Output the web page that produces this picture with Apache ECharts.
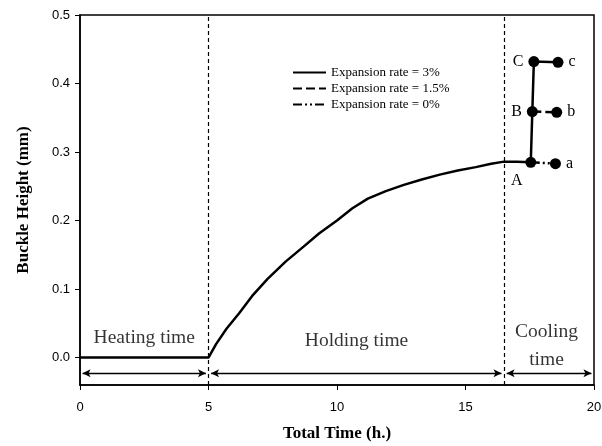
<!DOCTYPE html>
<html><head><meta charset="utf-8">
<script src="https://cdn.jsdelivr.net/npm/echarts@6/dist/echarts.min.js"></script>
<style>html,body{margin:0;padding:0;background:#fff}#c{width:602px;height:446px}</style>
</head><body><div id="c"></div>
<script>
// main curve (expansion holding phase)
const curveTime = [0, 5, 5.3, 5.7, 6.2, 6.7, 7.3, 8, 8.7, 9.3, 10, 10.6, 11.2, 11.9, 12.6, 13.3, 14, 14.7, 15.4, 16, 16.5, 17, 17.54];
const curveHeight = [0, 0, 0.02, 0.042, 0.065, 0.09, 0.115, 0.14, 0.162, 0.181, 0.2, 0.218, 0.232, 0.243, 0.252, 0.26, 0.267, 0.273, 0.278, 0.283, 0.286, 0.286, 0.285];
// cooling points
const pointNames = ['A', 'B', 'C', 'a', 'b', 'c'];
const pointTime = [17.54, 17.6, 17.66, 18.5, 18.55, 18.6];
const pointHeight = [0.285, 0.359, 0.432, 0.283, 0.358, 0.431];
const seriesNames = ['Expansion rate = 3%', 'Expansion rate = 1.5%', 'Expansion rate = 0%'];
// phases
const phaseBounds = [0, 5, 16.5, 20];
const phaseNames = ['Heating time', 'Holding time', 'Cooling\ntime'];
const phaseLabelX = [2.5, 10.76, 18.15];
const phaseLabelY = [0.029, 0.025, 0.0175];
const arrowY = -0.023;
const yTicks = [0, 0.1, 0.2, 0.3, 0.4, 0.5];

const P = i => [pointTime[i], pointHeight[i]];
const curve = curveTime.map((t, i) => [t, curveHeight[i]]);
const serif = 'Liberation Serif';
const sans = 'Liberation Sans';

const labelPos = {A: {position: 'bottom', offset: [-14, 0]}, B: {position: 'left'}, C: {position: 'left'},
  a: {position: 'right'}, b: {position: 'right'}, c: {position: 'right'}};

const chart = echarts.init(document.getElementById('c'));
chart.setOption({
  animation: false,
  backgroundColor: '#fff',
  grid: {left: 80, right: 8, top: 15, bottom: 61, show: true, borderColor: '#000', borderWidth: 1.5,
    containLabel: false, outerBoundsMode: 'none'},
  legend: {
    data: seriesNames, orient: 'vertical', left: 287, top: 61, itemGap: 3,
    itemWidth: 33, itemHeight: 12,
    itemStyle: {color: 'rgba(0,0,0,0)', borderWidth: 0, opacity: 0},
    textStyle: {fontFamily: serif, fontSize: 13, color: '#000'}
  },
  xAxis: {
    type: 'value', min: 0, max: 20, interval: 5,
    name: 'Total Time (h.)', nameLocation: 'middle', nameGap: 40,
    nameTextStyle: {fontFamily: serif, fontWeight: 'bold', fontSize: 17, color: '#000'},
    axisLine: {show: true, onZero: false, lineStyle: {color: '#000', width: 1.5}},
    axisTick: {show: true, length: 5, lineStyle: {color: '#000'}},
    axisLabel: {margin: 16, fontFamily: sans, fontSize: 13, color: '#000'},
    splitLine: {show: false}
  },
  yAxis: {
    type: 'value', min: -0.04, max: 0.5,
    name: 'Buckle Height (mm)', nameLocation: 'middle', nameGap: 48,
    nameTextStyle: {fontFamily: serif, fontWeight: 'bold', fontSize: 17, color: '#000'},
    axisLine: {show: true, onZero: false, lineStyle: {color: '#000', width: 1.5}},
    axisTick: {show: true, length: 5, customValues: yTicks, lineStyle: {color: '#000'}},
    axisLabel: {margin: 10, fontFamily: sans, fontSize: 13, color: '#000', customValues: yTicks,
      formatter: v => v.toFixed(1)},
    splitLine: {show: false}
  },
  series: [
    {
      name: seriesNames[2], type: 'line', symbol: 'none', z: 3,
      data: [P(0), P(3)],
      lineStyle: {color: '#000', width: 2.5, type: [9, 3, 2, 3, 2, 3]},
      itemStyle: {color: '#000'}
    },
    {
      name: seriesNames[1], type: 'line', symbol: 'none', z: 3,
      data: [P(1), P(4)],
      lineStyle: {color: '#000', width: 2.5, type: [9, 4]},
      itemStyle: {color: '#000'}
    },
    {
      name: seriesNames[0], type: 'line', symbol: 'none', z: 4,
      data: curve.concat([P(1), P(2), P(5)]),
      lineStyle: {color: '#000', width: 2.5, type: 'solid'},
      itemStyle: {color: '#000'},
      markLine: {
        silent: true, symbol: 'none',
        lineStyle: {color: '#000', width: 1.2, type: [4, 3]},
        label: {show: false},
        data: [{xAxis: phaseBounds[1]}, {xAxis: phaseBounds[2]}]
      }
    },
    {
      name: 'arrows', type: 'line', data: [], symbol: 'none',
      markLine: {
        silent: true, symbol: ['arrow', 'arrow'], symbolSize: [6, 8],
        lineStyle: {color: '#000', width: 1.3, type: 'solid'},
        label: {show: false},
        data: phaseBounds.slice(0, 3).map((b, i) => [
          {coord: [b + 0.1, arrowY]}, {coord: [phaseBounds[i + 1] - 0.1, arrowY]}
        ])
      }
    },
    {
      name: 'points', type: 'scatter', symbol: 'circle', symbolSize: 11, z: 5,
      itemStyle: {color: '#000', opacity: 1},
      data: pointNames.map((n, i) => ({
        value: P(i), name: n,
        label: Object.assign({show: true, formatter: n, fontFamily: serif, fontSize: 16, color: '#000', distance: 5}, labelPos[n])
      }))
    },
    {
      name: 'phases', type: 'scatter', symbolSize: 0, z: 5,
      data: phaseNames.map((n, i) => ({
        value: [phaseLabelX[i], phaseLabelY[i]],
        label: {show: true, position: 'inside', formatter: n, fontFamily: serif, fontSize: 19.5, color: '#000', lineHeight: 28, align: 'center'}
      }))
    }
  ]
});
</script></body></html>
